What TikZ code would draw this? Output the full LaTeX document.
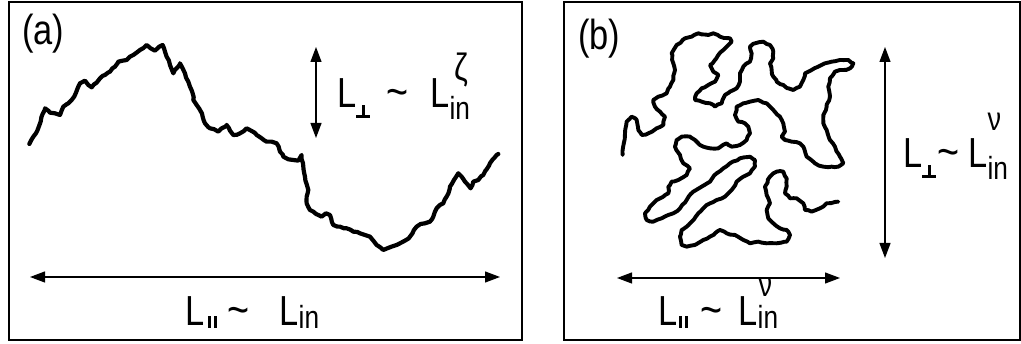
\documentclass[tikz,border=0pt]{standalone}
\usepackage{fontspec}
\setmainfont{Liberation Sans}[FakeStretch=0.82]
\usetikzlibrary{arrows.meta,decorations.pathmorphing}
\newcommand{\bigf}{\fontsize{42}{42}\selectfont}
\newcommand{\subf}{\fontsize{32}{32}\selectfont}
\newcommand{\zetaf}{\fontsize{38}{38}\selectfont}
\newcommand{\nuf}{\fontsize{33}{33}\selectfont}
\newcommand{\Tld}{{\fontsize{46}{46}\selectfont\textasciitilde}}
\newcommand{\PerpSub}{\raisebox{-10pt}{\rlap{\rule{14pt}{2.8pt}}\kern5.6pt\rule{2.8pt}{13pt}\kern5.6pt}}
\newcommand{\ParSub}{\raisebox{-2pt}{\rule{2.6pt}{12pt}\kern3pt\rule{2.6pt}{12pt}}}
% #1 drop
\newcommand{\InSub}[1]{\raisebox{-#1}{\subf in}}
% #1 superscript, #2 raise, #3 horizontal offset, #4 drop of "in"
\newcommand{\InSup}[4]{\sbox0{\subf in}\sbox2{#1}\raisebox{-#4}{\usebox0}\kern-\wd0\kern#3\raisebox{#2}{\usebox2}\kern-\wd2\kern-#3\kern\wd0}
\tikzset{
  frame/.style={line width=1.8pt},
  dimarrow/.style={line width=1.2pt,{Triangle[length=15pt,width=11pt]}-{Triangle[length=15pt,width=11pt]}},
  curve/.style={line width=4.2pt,line join=round,line cap=round,decorate,decoration={random steps,segment length=4pt,amplitude=0.7pt}},
  lab/.style={anchor=base west,inner sep=0pt,font=\bigf},
}
\begin{document}
\begin{tikzpicture}[x=1pt,y=-1pt]
\pgfmathsetseed{7}
\useasboundingbox (0,0) rectangle (1021,344);
\fill[white] (0,0) rectangle (1021,344);
% frames
\draw[frame] (9,2) rectangle (522,340);
\draw[frame] (564,2) rectangle (1020,340);
% panel labels
\node[lab] (pa) at (22,45) {(a)};
\node[lab] (pb) at (578,50) {(b)};
% panel (a) curve
\begin{scope}[x=0.3333pt,y=-0.3333pt]
\draw[curve] plot coordinates {(88,432) (100,410) (112,392) (122,365) (135,325) (150,338) (165,340) (180,345) (190,320) (205,310) (215,300) (228,278) (240,250) (255,242) (265,255) (275,262) (290,248) (300,235) (315,225) (330,215) (345,200) (355,185) (368,182) (380,180) (390,170) (400,165) (420,150) (440,135) (452,145) (465,152) (478,140) (488,135) (495,155) (500,170) (510,195) (520,220) (530,205) (540,190) (548,205) (555,220) (565,245) (570,260) (578,280) (580,300) (590,315) (600,330) (608,350) (615,370) (630,385) (655,395) (665,385) (680,375) (690,392) (700,405) (720,400) (740,385) (755,393) (770,405) (785,415) (800,425) (815,425) (830,430) (840,455) (850,470) (865,478) (880,480) (895,482) (905,465) (910,500) (915,530) (925,570) (920,590) (920,610) (930,630) (940,635) (955,645) (965,650) (978,640) (990,645) (1000,675) (1020,680) (1040,685) (1060,695) (1080,700) (1095,705) (1110,710) (1120,722) (1130,735) (1150,750) (1162,745) (1175,740) (1190,735) (1200,730) (1215,722) (1230,710) (1242,690) (1250,680) (1262,672) (1275,670) (1290,665) (1300,650) (1305,635) (1310,625) (1320,615) (1330,610) (1340,590) (1350,560) (1362,540) (1375,520) (1385,530) (1395,545) (1412,565) (1420,545) (1435,540) (1450,525) (1460,508) (1470,490) (1482,475) (1495,462)};
\end{scope}
% panel (b) curve
\begin{scope}[xshift=510pt,x=0.3333pt,y=-0.3333pt]
\draw[curve,line width=3.9pt] plot coordinates {(338,465) (345,400) (350,365) (365,350) (380,360) (385,390) (395,405) (415,400) (440,385) (460,375) (465,350) (450,335) (435,320) (430,300) (445,290) (470,280) (480,260) (490,240) (495,210) (490,190) (485,160) (500,135) (525,115) (545,110) (565,100) (595,105) (610,100) (630,110) (660,115) (665,125) (650,140) (640,150) (625,165) (615,180) (600,195) (610,215) (625,225) (615,245) (595,255) (575,265) (560,280) (555,300) (575,305) (600,310) (615,320) (635,310) (645,285) (660,275) (680,265) (690,245) (690,220) (700,200) (720,185) (725,160) (720,140) (735,130) (760,125) (780,135) (790,155) (790,175) (780,190) (785,210) (790,230) (800,245) (820,255) (835,265) (850,270) (870,260) (880,240) (885,220) (905,210) (925,200) (945,190) (965,185) (990,180) (1015,180) (1030,190) (1020,205) (1000,210) (975,215) (960,235) (955,260) (960,290) (950,320) (940,345) (940,370) (950,390) (960,420) (975,440) (990,470) (1000,490) (985,500) (965,500) (940,500) (915,490) (890,470) (880,440) (870,430) (845,425) (825,420) (815,410) (825,395) (820,370) (810,350) (790,330) (770,310) (745,300) (720,305) (700,310) (680,320) (675,345) (685,365) (705,370) (715,380) (720,400) (710,420) (690,435) (665,440) (650,430) (625,445) (600,445) (580,440) (565,430) (555,420) (540,410) (515,410) (500,420) (495,440) (510,465) (520,490) (540,505) (530,525) (505,540) (485,545) (475,560) (475,580) (460,590) (440,600) (420,620) (405,640) (410,660) (430,665) (455,655) (475,645) (490,640) (510,625) (530,600) (550,575) (575,560) (600,545) (620,520) (640,505) (660,490) (690,475) (720,470) (735,480) (735,500) (720,520) (700,530) (680,545) (665,570) (645,590) (620,600) (600,610) (580,625) (565,640) (545,665) (530,680) (515,690) (510,710) (515,735) (530,740) (555,735) (580,720) (600,710) (615,700) (630,690) (650,700) (675,705) (700,720) (720,730) (745,725) (770,730) (800,730) (830,725) (840,705) (830,690) (810,685) (790,670) (775,655) (770,630) (780,610) (770,585) (765,560) (780,530) (800,515) (820,515) (830,535) (830,560) (825,580) (840,595) (860,595) (880,610) (885,630) (905,635) (930,625) (950,610) (985,605)};
\end{scope}
% arrows panel (a)
\coordinate (av1) at (316,47);
\coordinate (av2) at (316,138);
\draw[dimarrow] (av1) -- (av2);
\coordinate (ah1) at (30,277);
\coordinate (ah2) at (500,277);
\draw[dimarrow] (ah1) -- (ah2);
% arrows panel (b)
\coordinate (bv1) at (885,47);
\coordinate (bv2) at (885,258);
\draw[dimarrow] (bv1) -- (bv2);
\coordinate (bh1) at (617,278);
\coordinate (bh2) at (840,278);
\draw[dimarrow] (bh1) -- (bh2);
% labels
\node[lab] (aperp) at (337,108) {L\PerpSub\hspace{16pt}\Tld\hspace{22pt}L\InSup{\zetaf ζ}{27pt}{5pt}{12pt}};
\node[lab] (apar) at (185,326) {L\kern4pt\ParSub\hspace{11pt}\Tld\hspace{30pt}L\InSub{3pt}};
\node[lab] (bperp) at (903,168) {L\PerpSub\kern1pt\Tld\hspace{9pt}L\InSup{\nuf ν}{37pt}{0pt}{12pt}};
\node[lab] (bpar) at (658,326) {L\kern2pt\ParSub\hspace{13pt}\Tld\hspace{16pt}L\InSup{\nuf ν}{29pt}{1pt}{3pt}};
\end{tikzpicture}
\end{document}
